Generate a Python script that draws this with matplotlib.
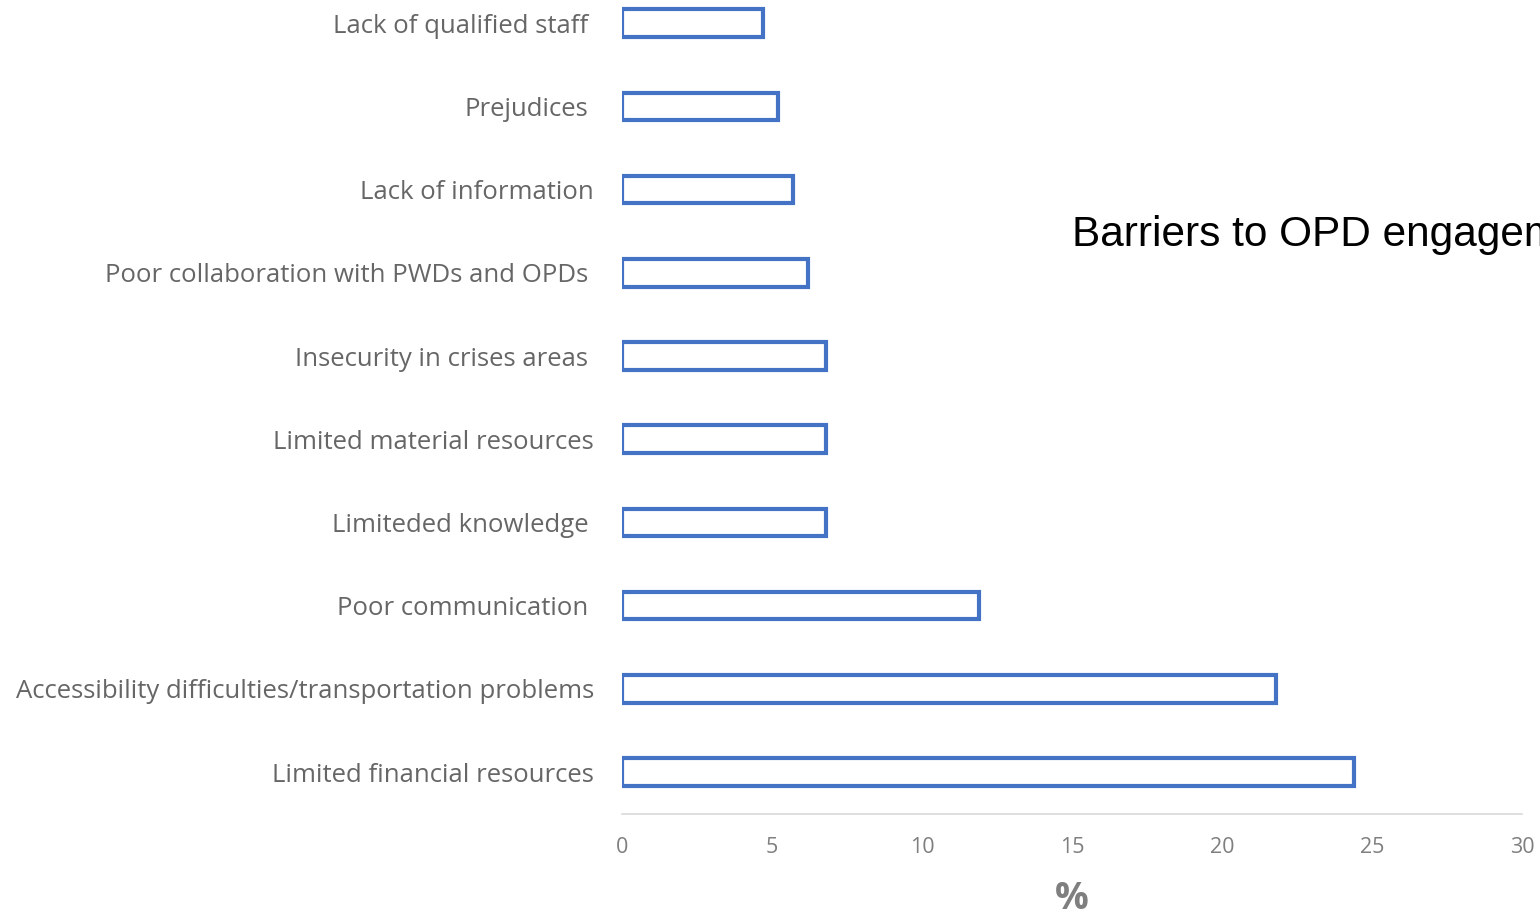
import matplotlib
matplotlib.use("Agg")
import matplotlib.pyplot as plt
import matplotlib.transforms as mtransforms

categories = [
    "Limited financial resources",
    "Accessibility difficulties/transportation problems",
    "Poor communication",
    "Limiteded knowledge",
    "Limited material resources",
    "Insecurity in crises areas",
    "Poor collaboration with PWDs and OPDs",
    "Lack of information",
    "Prejudices",
    "Lack of qualified staff",
]
values = [24.4, 21.8, 11.9, 6.8, 6.8, 6.8, 6.2, 5.7, 5.2, 4.7]
label_shift_px = [0, 0, -6, -6, 0, -6, -6, 0, -6, -6]
xticks = [0, 5, 10, 15, 20, 25, 30]

W, H, DPI = 1540, 915, 100
fig = plt.figure(figsize=(W / DPI, H / DPI), dpi=DPI)
ax = fig.add_axes([622 / W, 101.4 / H, 900 / W, 832 / H])

ax.barh(range(len(categories)), values, height=0.33, facecolor="white",
        edgecolor="#4472C4", linewidth=3.0)

ax.set_xlim(0, 30)
ax.set_ylim(-0.5, len(categories) - 0.5)
ax.set_xticks(xticks)
ax.set_xticklabels([str(t) for t in xticks], fontsize=15.5, color="#7F7F7F",
                   family="Open Sans")
ax.set_yticks(range(len(categories)))
ax.set_yticklabels(categories, fontsize=18.5, color="#666666", family="Open Sans")
ax.tick_params(axis="both", length=0)
ax.tick_params(axis="y", pad=20)
ax.tick_params(axis="x", pad=17)

for lab, dx in zip(ax.get_yticklabels(), label_shift_px):
    lab.set_transform(lab.get_transform() +
                      mtransforms.ScaledTranslation(dx / DPI, 0, fig.dpi_scale_trans))

for s in ["top", "right", "left"]:
    ax.spines[s].set_visible(False)
ax.spines["bottom"].set_color("#D9D9D9")
ax.spines["bottom"].set_linewidth(1.2)

fig.text(1072 / W, 1 - 246 / H, "Barriers to OPD engagement", fontsize=30.5,
         family="Liberation Sans", color="black", ha="left", va="baseline")
fig.text(1072 / W, 1 - 899 / H, "%", fontsize=27, fontweight="bold",
         family="Open Sans", color="#7F7F7F", ha="center", va="center")

fig.savefig("out.png", dpi=DPI)
